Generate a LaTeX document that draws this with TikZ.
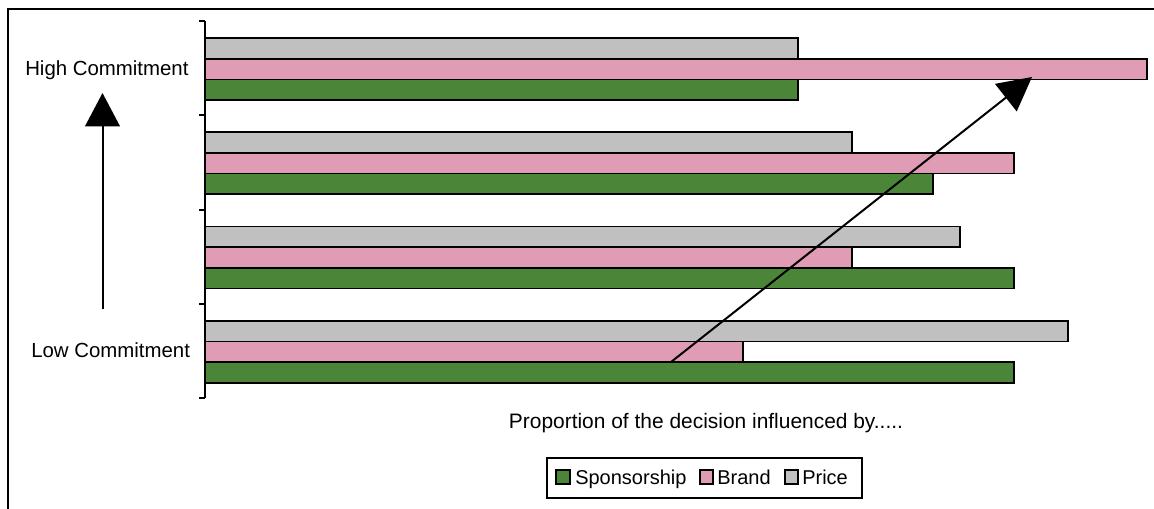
\documentclass[tikz,border=0pt]{standalone}
\usepackage{fontspec}
\setmainfont{Liberation Sans}
\usetikzlibrary{arrows.meta}
\definecolor{barGray}{HTML}{C0C0C0}
\definecolor{barPink}{HTML}{E09CB4}
\definecolor{barGreen}{HTML}{4A8538}
\begin{document}
\begin{tikzpicture}[x=0.75pt,y=-0.75pt,
  bar/.style={draw=black,line width=1.3pt},
  lbl/.style={font=\fontsize{15.3}{17}\selectfont,inner sep=0pt},
  leglbl/.style={font=\fontsize{15}{17}\selectfont,inner sep=0pt},
  bigarrow/.style={line width=1.5pt,-{Triangle[length=25pt,width=26pt]}},
  legsq/.style={draw=black,line width=1.3pt,minimum size=10pt,inner sep=0pt}]
\useasboundingbox (0,0) rectangle (1154,508);
\fill[white] (0,0) rectangle (1154,508);
% frame (only top and left edges visible)
\draw[line width=1.5pt] (8,520) -- (8,9) -- (1160,9);
% axis
\draw[line width=1.5pt] (205,21) -- (205,398);
\foreach \ty in {21,115.25,209.5,303.75,398} \draw[line width=1.5pt] (199,\ty) -- (205,\ty);
% Category 1 (High)
\draw[bar,fill=barGray]  (205,38)   rectangle (798,58.7);
\draw[bar,fill=barPink]  (205,58.7) rectangle (1147,79.4);
\draw[bar,fill=barGreen] (205,79.4) rectangle (798,100.1);
% Category 2
\draw[bar,fill=barGray]  (205,132.2) rectangle (852,152.9);
\draw[bar,fill=barPink]  (205,152.9) rectangle (1014,173.6);
\draw[bar,fill=barGreen] (205,173.6) rectangle (933,194.3);
% Category 3
\draw[bar,fill=barGray]  (205,226.5) rectangle (960,247.2);
\draw[bar,fill=barPink]  (205,247.2) rectangle (852,267.9);
\draw[bar,fill=barGreen] (205,267.9) rectangle (1014,288.6);
% Category 4 (Low)
\draw[bar,fill=barGray]  (205,320.7) rectangle (1068,341.4);
\draw[bar,fill=barPink]  (205,341.4) rectangle (743,362.1);
\draw[bar,fill=barGreen] (205,362.1) rectangle (1014,382.8);
% labels
\node[lbl,anchor=base west] (high) at (25,75) {High Commitment};
\node[lbl,anchor=base west] (low) at (31,357) {Low Commitment};
\node[lbl,font=\fontsize{15.7}{17}\selectfont,anchor=base] (xlab) at (706,428) {Proportion of the decision influenced by.....};
% arrows
\coordinate (vstart) at (102.5,309);
\coordinate (vend) at (102.5,93);
\draw[bigarrow] (vstart) -- (vend);
\coordinate (dstart) at (671,362);
\coordinate (dend) at (1032,77);
\draw[bigarrow] (dstart) -- (dend);
% legend
\node[draw=black,line width=1.3pt,minimum width=236.25pt,minimum height=30pt,inner sep=0pt] (legend) at (704.5,478) {};
\node[legsq,fill=barGreen] (sq1) at (563,477) {};
\node[leglbl,anchor=base west] (t1) at (575,484) {Sponsorship};
\node[legsq,fill=barPink] (sq2) at (706.5,477) {};
\node[leglbl,anchor=base west] (t2) at (717,484) {Brand};
\node[legsq,fill=barGray] (sq3) at (791.5,477) {};
\node[leglbl,anchor=base west] (t3) at (802,484) {Price};
\end{tikzpicture}
\end{document}
